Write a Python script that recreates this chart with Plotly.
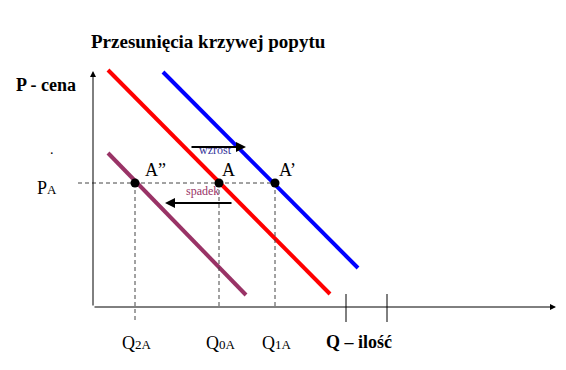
import plotly.graph_objects as go

# Data in economic coordinates (quantity, price); origin at the axes corner
red_x = [15, 237]
red_y = [237, 13]
blue_x = [70, 265]
blue_y = [235, 39]
purple_x = [15, 153]
purple_y = [154, 12]
point_x = [42, 126, 182]
point_y = [124, 124, 124]
point_labels = ["A”", "A", "A’"]
q_subs = ["2A", "0A", "1A"]
tick_x = [253, 294]

FONT = "Liberation Serif"
fig = go.Figure()

# demand curves
fig.add_trace(go.Scatter(x=purple_x, y=purple_y, mode="lines",
                         line=dict(color="#993366", width=4)))
fig.add_trace(go.Scatter(x=red_x, y=red_y, mode="lines",
                         line=dict(color="#ff0000", width=4)))
fig.add_trace(go.Scatter(x=blue_x, y=blue_y, mode="lines",
                         line=dict(color="#0000ff", width=4)))

# dashed guides
fig.add_trace(go.Scatter(x=[-15, point_x[2]], y=[124, 124], mode="lines",
                         line=dict(color="#444", width=1, dash="4px,3px")))
vbottom = [-15, -2, -2]
for px, vb in zip(point_x, vbottom):
    fig.add_trace(go.Scatter(x=[px, px], y=[124, vb], mode="lines",
                             line=dict(color="#444", width=1, dash="4px,3px")))

# tick marks
for tx in tick_x:
    fig.add_trace(go.Scatter(x=[tx, tx], y=[13, -15], mode="lines",
                             line=dict(color="black", width=1)))

# points
fig.add_trace(go.Scatter(x=point_x, y=point_y, mode="markers",
                         marker=dict(color="black", size=9)))

ann = []
# small labels under the shift arrows (drawn first so arrows sit on top)
ann.append(dict(x=122, y=157, text="wzrost", showarrow=False, xref="x", yref="y",
                font=dict(family=FONT, size=12, color="#333399")))
ann.append(dict(x=109, y=116, text="spadek", showarrow=False, xref="x", yref="y",
                font=dict(family=FONT, size=12, color="#993366")))
# axes arrows
ann.append(dict(x=0, y=236, ax=0, ay=0, xref="x", yref="y", axref="x", ayref="y",
                showarrow=True, arrowhead=2, arrowsize=1.2, arrowwidth=1, arrowcolor="black", text=""))
ann.append(dict(x=463, y=0, ax=0, ay=0, xref="x", yref="y", axref="x", ayref="y",
                showarrow=True, arrowhead=2, arrowsize=1.2, arrowwidth=1, arrowcolor="black", text=""))
# shift arrows
ann.append(dict(x=153, y=160, ax=97, ay=160, xref="x", yref="y", axref="x", ayref="y",
                showarrow=True, arrowhead=2, arrowsize=1, arrowwidth=2, arrowcolor="black", text=""))
ann.append(dict(x=72, y=104, ax=140, ay=104, xref="x", yref="y", axref="x", ayref="y",
                showarrow=True, arrowhead=2, arrowsize=1, arrowwidth=2, arrowcolor="black", text=""))
# point labels
for px, lab, dx in zip(point_x, point_labels, [20, 9, 12]):
    ann.append(dict(x=px + dx, y=137, text=lab, showarrow=False, xref="x", yref="y",
                    font=dict(family=FONT, size=18, color="black")))
# Q labels
for px, sub in zip(point_x, q_subs):
    ann.append(dict(x=px + 2, y=-36, text="Q<span style='font-size:13px'>" + sub + "</span>",
                    showarrow=False, xref="x", yref="y",
                    font=dict(family=FONT, size=18, color="black")))
ann.append(dict(x=266, y=-35, text="<b>Q – ilość</b>", showarrow=False, xref="x", yref="y",
                font=dict(family=FONT, size=18, color="black")))
ann.append(dict(x=-47, y=222, text="<b>P - cena</b>", showarrow=False, xref="x", yref="y",
                font=dict(family=FONT, size=18, color="black")))
ann.append(dict(x=-41, y=158, text=".", showarrow=False, xref="x", yref="y",
                font=dict(family=FONT, size=14, color="black")))
ann.append(dict(x=-46, y=119, text="P<span style='font-size:13px'>A</span>", showarrow=False,
                xref="x", yref="y", font=dict(family=FONT, size=18, color="black")))
ann.append(dict(x=115, y=266, text="<b>Przesunięcia krzywej popytu</b>", showarrow=False,
                xref="x", yref="y", font=dict(family=FONT, size=19, color="black")))

fig.update_layout(
    width=566, height=370, margin=dict(l=0, r=0, t=0, b=0),
    paper_bgcolor="white", plot_bgcolor="white", showlegend=False,
    annotations=ann,
    xaxis=dict(range=[-85, 481], visible=False, fixedrange=True),
    yaxis=dict(range=[-71, 299], visible=False, fixedrange=True),
)
fig.write_html("out.html")
